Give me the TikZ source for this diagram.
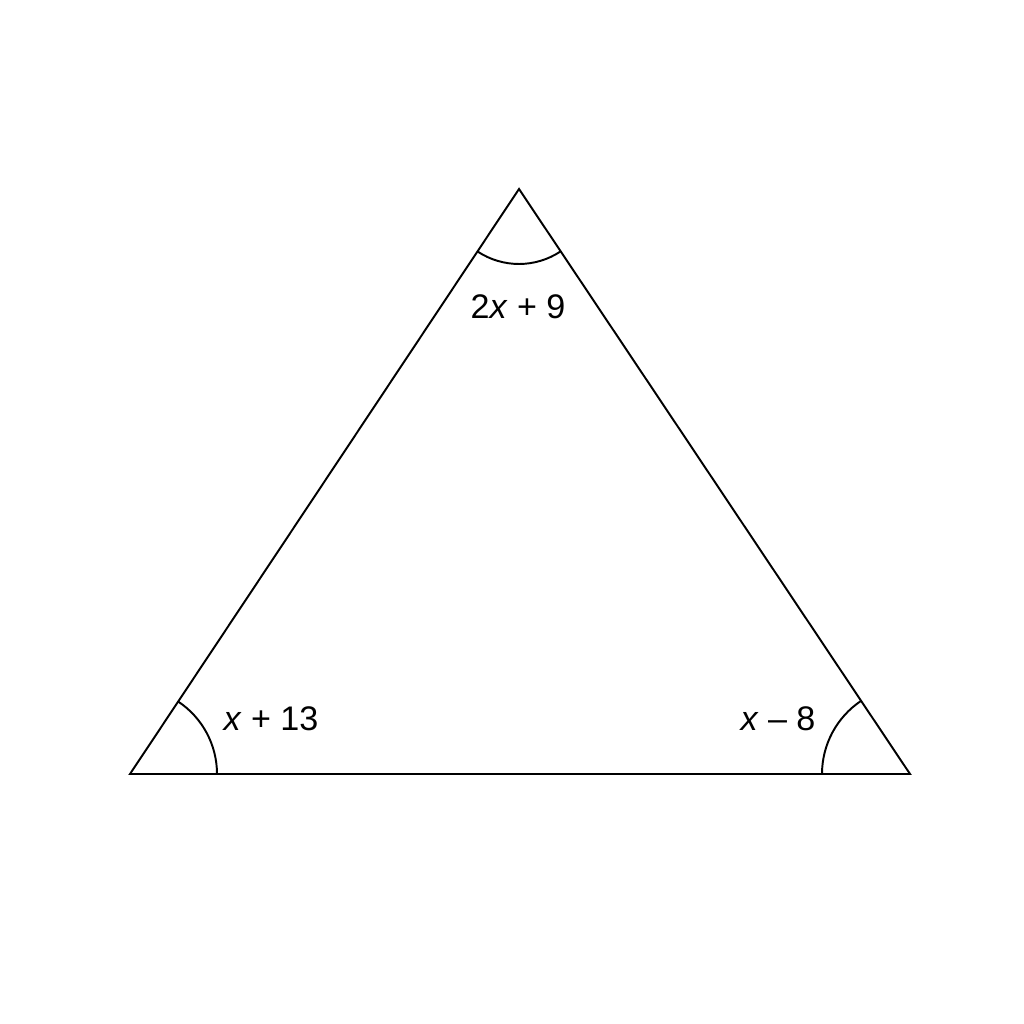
\documentclass[tikz,border=0pt]{standalone}
\usepackage{fontspec}
\setmainfont{Liberation Sans}

\begin{document}
\begin{tikzpicture}[x=0.01cm,y=0.01cm,line width=0.55pt,
  anglelabel/.style={font=\fontsize{9.7pt}{11pt}\selectfont, inner sep=0pt}]
%  \draw [step=100,color=gray] (0, 0) grid (1024, 1024);
  \useasboundingbox (0,0) rectangle (1024,1024);

  \path (130,250) coordinate (PA);
  \path (910,250) coordinate (PB);
  \path (519,835) coordinate (PC);

  \draw (PA) -- (PB) -- (PC) -- cycle;

  \draw ([shift={(0:87)}]PA) arc (0:56.4:87);
  \draw ([shift={(180:88)}]PB) arc (180:123.8:88);
  \draw ([shift={(236.4:75)}]PC) arc (236.4:303.8:75);

  \node[anglelabel] (LC) at (518,717) {2\textit{x} + 9};
  \node[anglelabel] (LA) at (271,305) {\textit{x} + 13};
  \node[anglelabel] (LB) at (778,305) {\textit{x} – 8};

\end{tikzpicture}
\end{document}
